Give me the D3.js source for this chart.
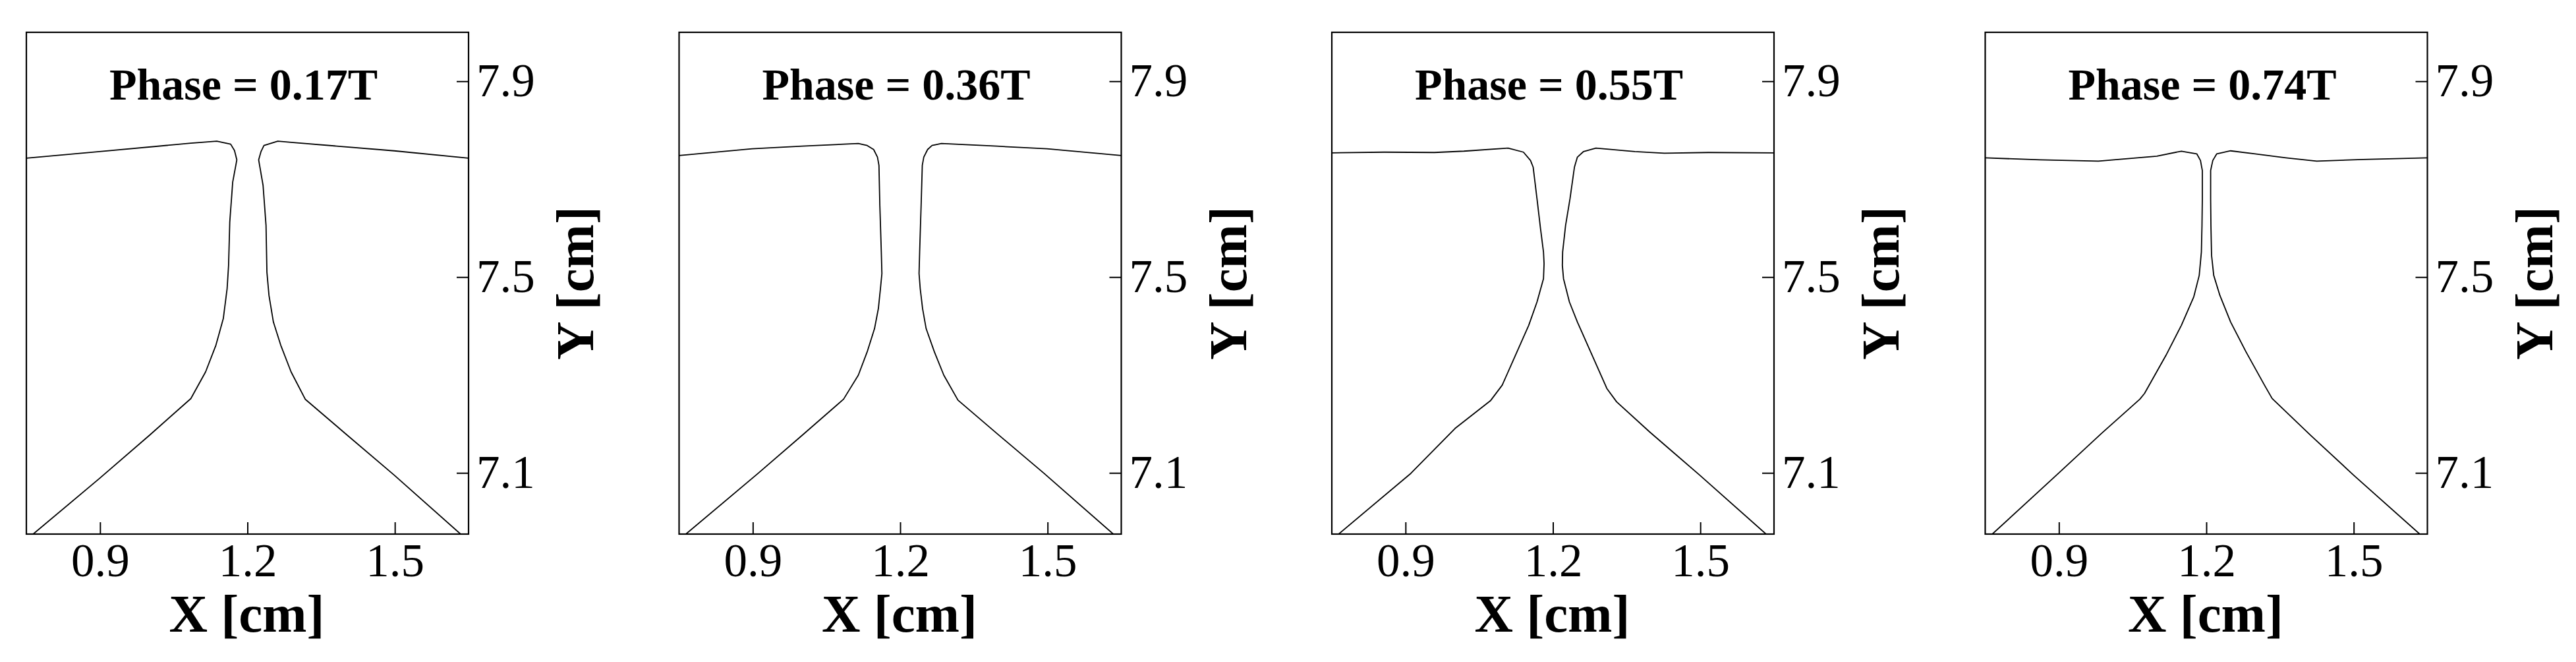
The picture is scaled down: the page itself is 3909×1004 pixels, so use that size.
<!DOCTYPE html>
<html><head><meta charset="utf-8">
<script src="https://cdn.jsdelivr.net/npm/d3@7"></script>
<style>body{margin:0;background:#fff}</style>
</head><body>
<svg id="c" width="3909" height="1004"></svg>
<script>
// ---- data ----
const phases = ["Phase = 0.17T", "Phase = 0.36T", "Phase = 0.55T", "Phase = 0.74T"];
const xTicks = [0.9, 1.2, 1.5];
const yTicks = [7.1, 7.5, 7.9];
const xDomain = [0.75, 1.65];
const yDomain = [6.975, 8.0];
const xLabel = "X [cm]";
const yLabel = "Y [cm]";

const p1Left = [[0.75,7.743],[0.8988,7.7565],[1.0848,7.7735],[1.1376,7.7776],[1.1658,7.7715],[1.1736,7.7585],[1.1784,7.7395],[1.170,7.694],[1.164,7.6123],[1.1616,7.5239],[1.1586,7.4763],[1.1508,7.415],[1.1358,7.3608],[1.1148,7.3063],[1.0848,7.2518],[1.0008,7.177],[0.8988,7.0886],[0.7638,6.975]];
const p1Right = [[1.65,7.743],[1.4988,7.7579],[1.3008,7.7742],[1.2618,7.7776],[1.2336,7.7688],[1.2276,7.7565],[1.2228,7.7395],[1.2318,7.6872],[1.2378,7.6055],[1.2396,7.5103],[1.2438,7.4627],[1.2528,7.4083],[1.2678,7.3608],[1.2888,7.3063],[1.3176,7.2505],[1.3968,7.1825],[1.4988,7.0954],[1.6338,6.975]];

const p2Left = [[0.75,7.7484],[0.8988,7.762],[1.0008,7.7674],[1.1148,7.7729],[1.1328,7.7688],[1.146,7.7606],[1.1538,7.745],[1.1568,7.728],[1.1586,7.6464],[1.1616,7.5512],[1.1628,7.507],[1.1598,7.4763],[1.1556,7.4356],[1.1478,7.3948],[1.1328,7.3472],[1.1148,7.2996],[1.0848,7.2506],[1.0008,7.177],[0.9108,7.099],[0.7638,6.975]];
const p2Right = [[1.65,7.7484],[1.4988,7.762],[1.3968,7.7674],[1.284,7.7729],[1.2648,7.7688],[1.2558,7.7606],[1.248,7.745],[1.245,7.728],[1.2426,7.6464],[1.2396,7.5512],[1.2384,7.507],[1.2408,7.4763],[1.2456,7.4356],[1.2528,7.3948],[1.2696,7.3472],[1.2888,7.2996],[1.3176,7.2486],[1.3968,7.1806],[1.4928,7.099],[1.6338,6.975]];

const p3Left = [[0.75,7.7538],[0.8568,7.7552],[0.9588,7.7545],[1.0188,7.7572],[1.1088,7.7634],[1.14,7.7552],[1.1544,7.7382],[1.1598,7.7245],[1.1676,7.66],[1.1748,7.5988],[1.1808,7.5512],[1.182,7.5274],[1.1808,7.4967],[1.1676,7.4491],[1.1508,7.4015],[1.1328,7.3608],[1.1148,7.32],[1.0968,7.2792],[1.0728,7.2473],[1.0008,7.1908],[0.9108,7.099],[0.7638,6.975]];
const p3Right = [[1.65,7.7538],[1.5168,7.7545],[1.4268,7.7531],[1.3668,7.7565],[1.2876,7.7634],[1.2624,7.7565],[1.2498,7.745],[1.2438,7.7245],[1.2348,7.66],[1.2258,7.6055],[1.2198,7.5512],[1.2192,7.524],[1.2216,7.4967],[1.2336,7.4491],[1.2498,7.4083],[1.2708,7.3608],[1.2918,7.3132],[1.3098,7.2724],[1.3296,7.2452],[1.3968,7.1838],[1.4988,7.0954],[1.6338,6.975]];

const p4Left = [[0.75,7.7436],[0.8614,7.7395],[0.9803,7.7368],[1.0992,7.747],[1.1493,7.7572],[1.1806,7.7518],[1.1881,7.7382],[1.1919,7.7177],[1.1919,7.66],[1.1912,7.6055],[1.19,7.5512],[1.1856,7.5035],[1.1744,7.4593],[1.1493,7.4015],[1.118,7.3403],[1.0742,7.2622],[1.0648,7.2506],[0.9866,7.1806],[0.899,7.099],[0.7644,6.975]];
const p4Right = [[1.65,7.7436],[1.5186,7.7402],[1.4247,7.7368],[1.3621,7.7436],[1.2995,7.7518],[1.2495,7.7579],[1.2213,7.7518],[1.2132,7.7382],[1.2088,7.7177],[1.2088,7.66],[1.2094,7.6055],[1.2107,7.5444],[1.2151,7.5035],[1.2276,7.4627],[1.2495,7.4083],[1.2808,7.3472],[1.3184,7.2792],[1.334,7.252],[1.4122,7.177],[1.4998,7.0954],[1.6344,6.975]];

const panels = [
  {title: phases[0], curves: [p1Left, p1Right]},
  {title: phases[1], curves: [p2Left, p2Right]},
  {title: phases[2], curves: [p3Left, p3Right]},
  {title: phases[3], curves: [p4Left, p4Right]}
];

// ---- layout ----
const lefts = [40, 1030.5, 2021, 3012.5];
const plotTop = 49, W = 671, H = 761;
const serif = "'Liberation Serif', 'Times New Roman', serif";

const svg = d3.select("#c");
const x = d3.scaleLinear().domain(xDomain).range([0, W]);
const y = d3.scaleLinear().domain(yDomain).range([H, 0]);
const line = d3.line().x(d => x(d[0])).y(d => y(d[1]));

svg.append("defs").append("clipPath").attr("id", "clip")
  .append("rect").attr("width", W).attr("height", H);

panels.forEach((p, i) => {
  const g = svg.append("g").attr("transform", `translate(${lefts[i]},${plotTop})`);

  const cg = g.append("g").attr("clip-path", "url(#clip)");
  p.curves.forEach(c => {
    cg.append("path").datum(c).attr("d", line)
      .attr("fill", "none").attr("stroke", "#000").attr("stroke-width", 1.8)
      .attr("stroke-linejoin", "round");
  });

  const ax = g.append("g").attr("transform", `translate(0,${H})`)
    .call(d3.axisBottom(x).tickValues(xTicks).tickSize(-18).tickPadding(14).tickFormat(d3.format(".1f")));
  const ay = g.append("g").attr("transform", `translate(${W},0)`)
    .call(d3.axisRight(y).tickValues(yTicks).tickSize(-18).tickPadding(12).tickFormat(d3.format(".1f")));
  [ax, ay].forEach(a => {
    a.select(".domain").remove();
    a.selectAll(".tick line").attr("stroke", "#000").attr("stroke-width", 2);
    a.selectAll(".tick text").attr("fill", "#000").style("font-family", serif).style("font-size", "71px");
  });

  g.append("rect").attr("width", W).attr("height", H)
    .attr("fill", "none").attr("stroke", "#000").attr("stroke-width", 2.2);

  g.append("text").attr("x", W / 2 - 6).attr("y", 102)
    .attr("text-anchor", "middle").style("font-family", serif).style("font-weight", "bold")
    .style("font-size", "68px").text(p.title);

  g.append("text").attr("x", W / 2 - 1).attr("y", 909)
    .attr("text-anchor", "middle").style("font-family", serif).style("font-weight", "bold")
    .style("font-size", "81px").text(xLabel);

  g.append("text").attr("transform", `translate(${W + 189},${H / 2}) rotate(-90)`)
    .attr("text-anchor", "middle").style("font-family", serif).style("font-weight", "bold")
    .style("font-size", "81px").text(yLabel);
});
</script>
</body></html>
